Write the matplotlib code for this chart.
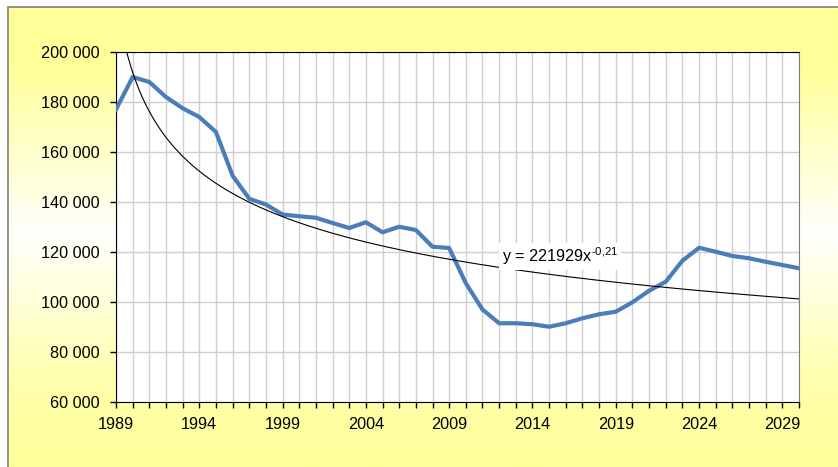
import numpy as np
import matplotlib
matplotlib.use("Agg")
import matplotlib.pyplot as plt
from matplotlib.colors import LinearSegmentedColormap
from matplotlib.patches import Rectangle
from matplotlib.ticker import FuncFormatter

years = list(range(1989, 2031))
births = [177000, 190000, 188000, 182000, 177500, 174000, 168000, 150500,
          141300, 139000, 135000, 134300, 133700, 131600, 129600, 131900,
          127900, 130100, 128800, 122100, 121600, 107500, 97000, 91500,
          91500, 91100, 90100, 91500, 93500, 95100, 96100, 99900,
          104500, 108100, 116500, 121700, 120100, 118400, 117500, 116100,
          114800, 113500]
# power trendline shown on the chart: y = a * x^b, x = 1 for 1989
trend_a = 221929
trend_b = -0.21
trend_label = r'y = 221929x$^{\text{-0,21}}$'

plt.rcParams['font.family'] = ['Liberation Sans', 'DejaVu Sans']
plt.rcParams['mathtext.fontset'] = 'custom'
plt.rcParams['mathtext.rm'] = 'Liberation Sans'

W, H = 838, 467
fig = plt.figure(figsize=(W / 100, H / 100), dpi=100)
fig.patch.set_facecolor('white')

# yellow -> white -> yellow chart area background
bg = fig.add_axes([8 / W, 0, 1 - 8 / W, 1 - 7 / H])
cmap = LinearSegmentedColormap.from_list(
    'yl', [(0, '#ffff99'), (0.12, '#ffff99'), (0.5, '#fffffc'),
           (0.8, '#ffffb0'), (1, '#ffff99')])
bg.imshow(np.linspace(0, 1, 256).reshape(-1, 1), aspect='auto', cmap=cmap,
          extent=[0, 1, 0, 1])
bg.set_axis_off()
fig.patches.append(Rectangle((8 / W, -0.1), 1.1, 1.1 - 7 / H,
                             transform=fig.transFigure, fill=False,
                             edgecolor='#808080', lw=1.2))

ax = fig.add_axes([116 / W, 65 / H, 683 / W, 350 / H])
ax.set_facecolor('white')

ax.plot(years, births, color='#4a7ebb', lw=3.0, solid_joinstyle='round',
        zorder=3)
t = np.linspace(1, 42, 400)
ax.plot(t + 1988, trend_a * t ** trend_b, color='black', lw=0.8, zorder=4)

ax.set_xlim(1989, 2030)
ax.set_ylim(60000, 200000)
ax.set_xticks(years)
ax.set_xticklabels([str(y) if (y - 1989) % 5 == 0 else '' for y in years])
ax.set_yticks(range(60000, 200001, 20000))
ax.yaxis.set_major_formatter(
    FuncFormatter(lambda v, p: '{:,.0f}'.format(v).replace(',', ' ')))
ax.tick_params(axis='both', direction='out', length=4, width=1,
               labelsize=11.7, colors='black')
ax.tick_params(axis='y', pad=8)
ax.tick_params(axis='x', pad=7)
ax.grid(True, color='#cfcfcf', lw=1)
ax.set_axisbelow(True)
for s in ['left', 'bottom', 'top']:
    ax.spines[s].set_color('black')
ax.spines['right'].set_color('#808080')

ax.text(2012.15, 118200, trend_label, fontsize=11.7, va='center', ha='left',
        zorder=5, bbox=dict(facecolor='white', edgecolor='none', pad=2))

fig.savefig('out.png', dpi=100, facecolor=fig.get_facecolor())
